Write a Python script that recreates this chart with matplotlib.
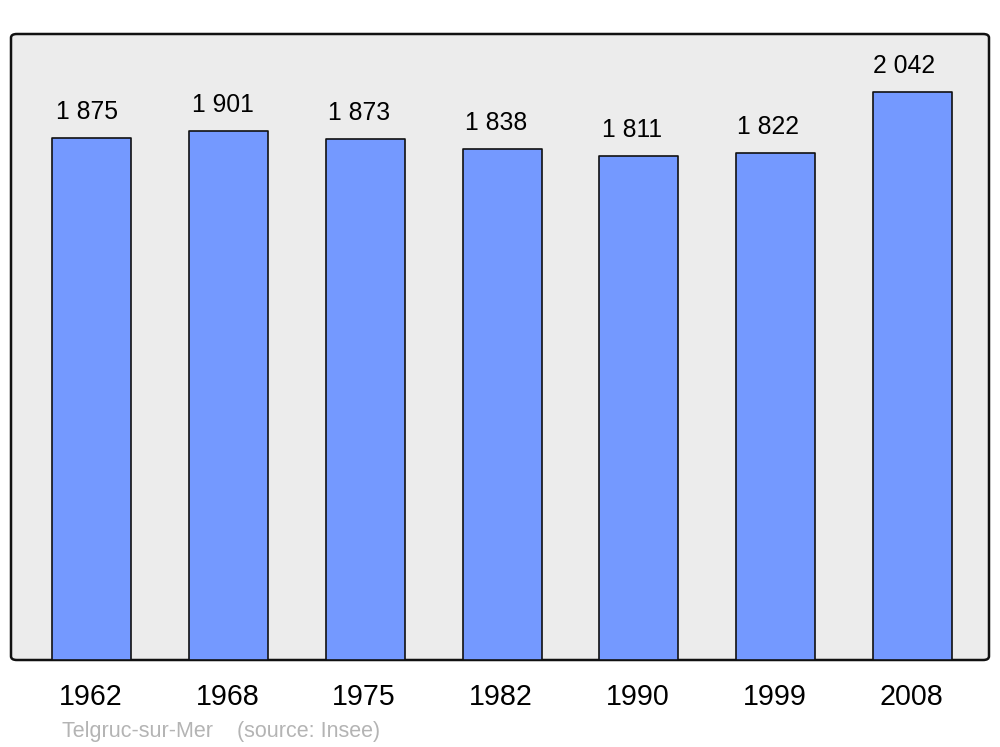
import matplotlib.pyplot as plt
from matplotlib.patches import FancyBboxPatch

years = ["1962", "1968", "1975", "1982", "1990", "1999", "2008"]
population = [1875, 1901, 1873, 1838, 1811, 1822, 2042]
value_labels = ["1 875", "1 901", "1 873", "1 838", "1 811", "1 822", "2 042"]

plt.rcParams["font.family"] = ["Liberation Sans", "DejaVu Sans"]

fig = plt.figure(figsize=(10, 7.47), dpi=100)
ax = fig.add_axes([0.011, 1 - 660 / 747, 0.978, 626 / 747])
ax.patch.set_visible(False)
for s in ax.spines.values():
    s.set_visible(False)

# rounded grey background with dark frame
bg = FancyBboxPatch((0, 0), 1, 1, boxstyle="round,pad=0,rounding_size=0.006",
                    transform=ax.transAxes, facecolor="#ececec", edgecolor="#111111",
                    linewidth=1.8, zorder=0, clip_on=False)
ax.add_patch(bg)

x = range(len(years))
bars = ax.bar(x, population, width=0.577, color="#7499ff", edgecolor="#111111",
              linewidth=1.2, zorder=2)
for b in bars:
    b.set_joinstyle("round")

ax.set_xlim(-0.588, 6.558)
ax.set_ylim(0, 2250)
ax.set_xticks([])
ax.set_yticks([])

for i, (v, lab) in enumerate(zip(population, value_labels)):
    # labels sit a little left of the bar centre in the original
    ax.annotate(lab, (i, v), xytext=(-3.3 - 0.42 * i, 13.7), textcoords="offset points",
                ha="center", va="baseline", fontsize=17.8)
    ax.annotate(years[i], (i, 0), xytext=(-0.7, -32.4), textcoords="offset points",
                ha="center", va="baseline", fontsize=20.6)

fig.text(0.062, 1 - 737 / 747, "Telgruc-sur-Mer    (source: Insee)",
         fontsize=15.5, color="#b4b4b4", va="baseline", ha="left")

fig.savefig("out.png", dpi=100, facecolor="white")
